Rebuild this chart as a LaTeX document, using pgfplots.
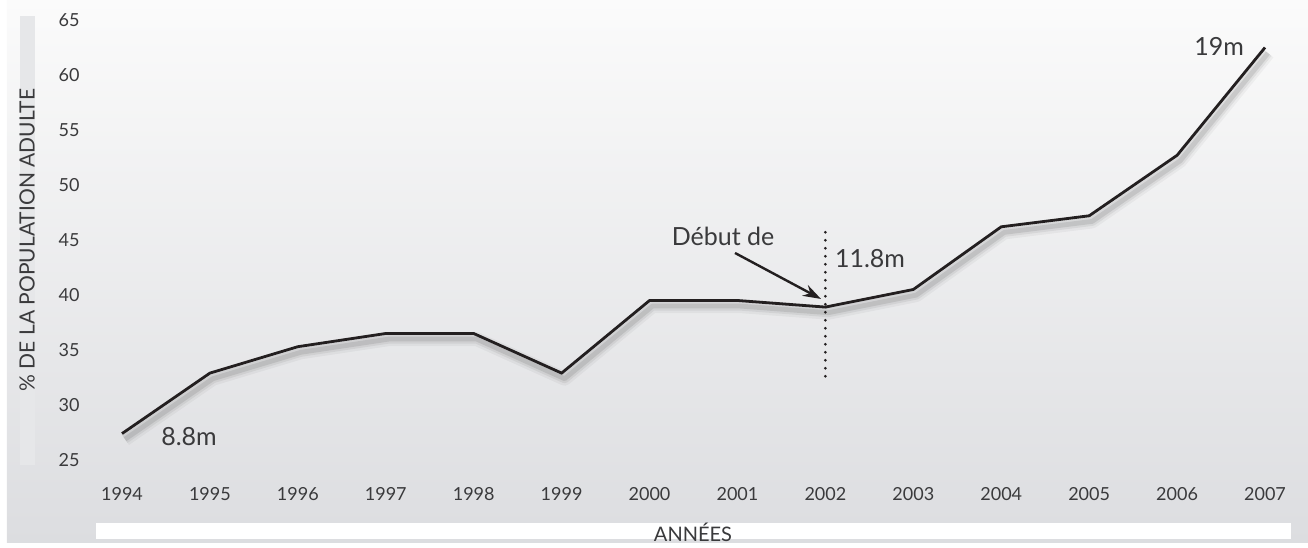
\documentclass[border=0pt]{standalone}
\usepackage{pgfplots}
\pgfplotsset{compat=1.18}
\usetikzlibrary{arrows.meta}
\usepackage{fontspec}
\setmainfont{Lato}
\definecolor{linecol}{HTML}{231F20}
\definecolor{txt}{HTML}{3A3A3C}
\definecolor{bgtop}{HTML}{FBFBFB}
\definecolor{bgbot}{HTML}{DCDDE0}
\definecolor{strip}{HTML}{E6E7E9}
\pgfplotstableread{
x y
0 27.4
1 32.9
2 35.3
3 36.5
4 36.5
5 32.9
6 39.5
7 39.5
8 38.9
9 40.5
10 46.2
11 47.2
12 52.7
13 62.5
}\datatable
\begin{document}
\begin{tikzpicture}
\begin{axis}[
  set layers,
  scale only axis,
  width=571.5pt, height=220pt,
  xmin=0, xmax=13, ymin=25, ymax=65,
  clip=false,
  axis line style={draw=none},
  major tick length=0pt,
  tick style={draw=none},
  xtick={0,...,13},
  xticklabels={1994,1995,1996,1997,1998,1999,2000,2001,2002,2003,2004,2005,2006,2007},
  ytick={25,30,...,65},
  /pgf/number format/assume math mode=true,
  ticklabel style={font=\fontsize{9}{10}\selectfont, text=txt},
  xticklabel style={anchor=center, yshift=-17pt},
  yticklabel style={anchor=center, xshift=-26.5pt},
]
\begin{pgfonlayer}{axis background}
  % page bounds
  \path (axis cs:-1.3876,17.455) rectangle (axis cs:13.489,66.818);
  % gradient background
  \shade[top color=bgtop, bottom color=bgbot] (axis cs:-1.308,17.455) rectangle (axis cs:13.489,66.818);
  % y-label strip
  \fill[strip] (axis cs:-1.160,24.545) rectangle (axis cs:-0.990,65.364);
  % x-label strip
  \fill[white] (axis cs:-0.296,17.818) rectangle (axis cs:13.296,19.273);
\end{pgfonlayer}
% shadow
\addplot[black, opacity=0.04, line width=7pt, line join=round, shift={(1.5pt,-2.8pt)}] table[x=x,y=y] {\datatable};
\addplot[black, opacity=0.06, line width=4.5pt, line join=round, shift={(1.5pt,-2.8pt)}] table[x=x,y=y] {\datatable};
\addplot[black, opacity=0.09, line width=2.4pt, line join=round, shift={(1.5pt,-2.8pt)}] table[x=x,y=y] {\datatable};
% main line
\addplot[linecol, line width=1.4pt, line join=miter] table[x=x,y=y] {\datatable};
% dotted line at 2002
\draw[linecol, line width=1.5pt, line cap=round, dash pattern=on 0pt off 4pt] (axis cs:8,45.7) -- (axis cs:8,32.0);
% arrow
\draw[linecol, line width=1.2pt, -{Stealth[length=9pt,width=6pt]}] (axis cs:6.972,43.82) -- (axis cs:7.950,39.64);
% annotations
\node[text=txt, font=\fontsize{12.5}{14}\selectfont] at (axis cs:0.762,27.09) {8.8m};
\node[text=txt, font=\fontsize{12.5}{14}\selectfont] at (axis cs:6.836,45.36) {Début de};
\node[text=txt, font=\fontsize{12.5}{14}\selectfont] at (axis cs:8.508,43.27) {11.8m};
\node[text=txt, font=\fontsize{12.5}{14}\selectfont] at (axis cs:12.477,62.64) {19m};
% axis labels
\node[text=txt, rotate=90, font=\fontsize{10.5}{12}\selectfont] at (axis cs:-1.080,45.0) {\% DE LA POPULATION ADULTE};
\node[text=txt, font=\fontsize{10}{12}\selectfont] at (axis cs:6.494,18.455) {ANNÉES};
\end{axis}
\end{tikzpicture}
\end{document}
